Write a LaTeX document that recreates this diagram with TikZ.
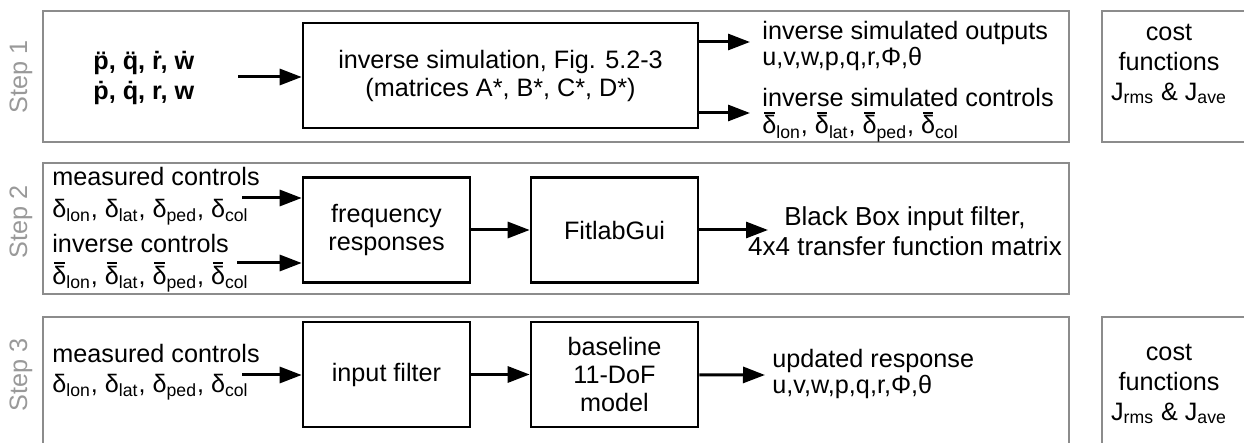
\documentclass[tikz,border=0pt]{standalone}
\usepackage{fontspec}
\setmainfont{Liberation Sans}
\usetikzlibrary{arrows.meta,positioning}

\newcommand\ddt[1]{\accent"A8 #1}
\newcommand\sdt[1]{\accent"2D9 #1}
\newcommand\dbar{\leavevmode\makebox[0pt][l]{\hspace{0.07em}\rule[0.79em]{0.42em}{0.07em}}δ}

\begin{document}
\begin{tikzpicture}[
  x=0.5pt,y=-0.5pt,
  font=\fontsize{12.6}{14}\selectfont,
  frame/.style={draw=black!45,line width=1.2pt,inner sep=0pt,minimum width=513pt},
  blk/.style={draw,line width=1.3pt,align=center,inner sep=0pt,minimum height=52.5pt},
  txt/.style={align=left,anchor=west,inner sep=0pt},
  steplbl/.style={rotate=90,text=black!40},
  arr/.style={-{Triangle[length=11pt,width=8pt]},line width=1.5pt}
]
\useasboundingbox (0,0) rectangle (1244,443);
\clip (0,0) rectangle (1244,443);

\node[frame,minimum height=65.5pt] (frame1) at (556,76.5) {};
\node[frame,minimum height=65.5pt] (frame2) at (556,228.5) {};
\node[frame,minimum height=66.5pt] (frame3) at (556,383.5) {};
\node[frame,minimum width=75pt,minimum height=65.5pt] (cost1) at (1177,76.5) {};
\node[frame,minimum width=75pt,minimum height=66.5pt] (cost3) at (1177,383.5) {};

\node[steplbl] (step1) at (21,77) {Step 1};
\node[steplbl] (step2) at (21,222) {Step 2};
\node[steplbl] (step3) at (21,375) {Step 3};

% step 1
\node[txt,font=\fontsize{12.6}{15}\selectfont\bfseries] (acc) at (93,78)
  {\ddt{p}, \ddt{q}, \sdt{r}, \sdt{w}\\\sdt{p}, \sdt{q}, r, w};
\node[blk,minimum width=197.5pt] (sim) at (500.5,75.5)
  {inverse simulation, Fig. 5.2-3\\(matrices A*, B*, C*, D*)};
\node[txt,font=\fontsize{12.6}{11.5}\selectfont] (simout) at (762,46)
  {inverse simulated outputs\\u,v,w,p,q,r,Φ,θ};
\node[txt,font=\fontsize{12.6}{13.5}\selectfont] (simctl) at (762,115)
  {inverse simulated controls\\\dbar\textsubscript{lon}, \dbar\textsubscript{lat}, \dbar\textsubscript{ped}, \dbar\textsubscript{col}};
\node[align=center,inner sep=0pt,font=\fontsize{12.6}{15}\selectfont] (cost1txt) at (1169,64)
  {cost\\functions\\J\textsubscript{rms} \& J\textsubscript{ave}};

\coordinate (acc in) at (238,77);
\coordinate (out1) at (750,42);
\coordinate (out2) at (750,113);
\draw[arr] (acc in) -- (acc in -| sim.west);
\draw[arr] (sim.east |- out1) -- (out1);
\draw[arr] (sim.east |- out2) -- (out2);

% step 2
\node[txt,font=\fontsize{12.6}{16}\selectfont] (meas2) at (52,196)
  {measured controls\\δ\textsubscript{lon}, δ\textsubscript{lat}, δ\textsubscript{ped}, δ\textsubscript{col}};
\node[txt,font=\fontsize{12.6}{16}\selectfont] (inv2) at (52,263)
  {inverse controls\\\dbar\textsubscript{lon}, \dbar\textsubscript{lat}, \dbar\textsubscript{ped}, \dbar\textsubscript{col}};
\node[blk,minimum width=83.5pt] (freq) at (386.5,230) {frequency\\responses};
\node[blk,minimum width=83.5pt] (fitlab) at (614.5,230) {FitlabGui};
\node[align=center,inner sep=0pt,font=\fontsize{13}{15}\selectfont] (bbox) at (905,231)
  {Black Box input filter,\\4x4 transfer function matrix};

\coordinate (meas2 in) at (242,198);
\coordinate (inv2 in) at (237,263);
\coordinate (bbox in) at (768,230);
\draw[arr] (meas2 in) -- (meas2 in -| freq.west);
\draw[arr] (inv2 in) -- (inv2 in -| freq.west);
\draw[arr] (freq) -- (fitlab);
\draw[arr] (fitlab) -- (bbox in);

% step 3
\node[txt,font=\fontsize{12.6}{15}\selectfont] (meas3) at (52,372)
  {measured controls\\δ\textsubscript{lon}, δ\textsubscript{lat}, δ\textsubscript{ped}, δ\textsubscript{col}};
\node[blk,minimum width=83.5pt] (infilt) at (386.5,374.5) {input filter};
\node[blk,minimum width=83.5pt] (model) at (614.5,374.5) {baseline\\11-DoF\\model};
\node[txt,font=\fontsize{12.6}{13}\selectfont] (upd) at (772,374)
  {updated response\\u,v,w,p,q,r,Φ,θ};
\node[align=center,inner sep=0pt,font=\fontsize{12.6}{15}\selectfont] (cost3txt) at (1169,384)
  {cost\\functions\\J\textsubscript{rms} \& J\textsubscript{ave}};

\coordinate (meas3 in) at (242,375);
\coordinate (upd in) at (765,375);
\draw[arr] (meas3 in) -- (meas3 in -| infilt.west);
\draw[arr] (infilt) -- (model);
\draw[arr] (model) -- (upd in);
\end{tikzpicture}
\end{document}
